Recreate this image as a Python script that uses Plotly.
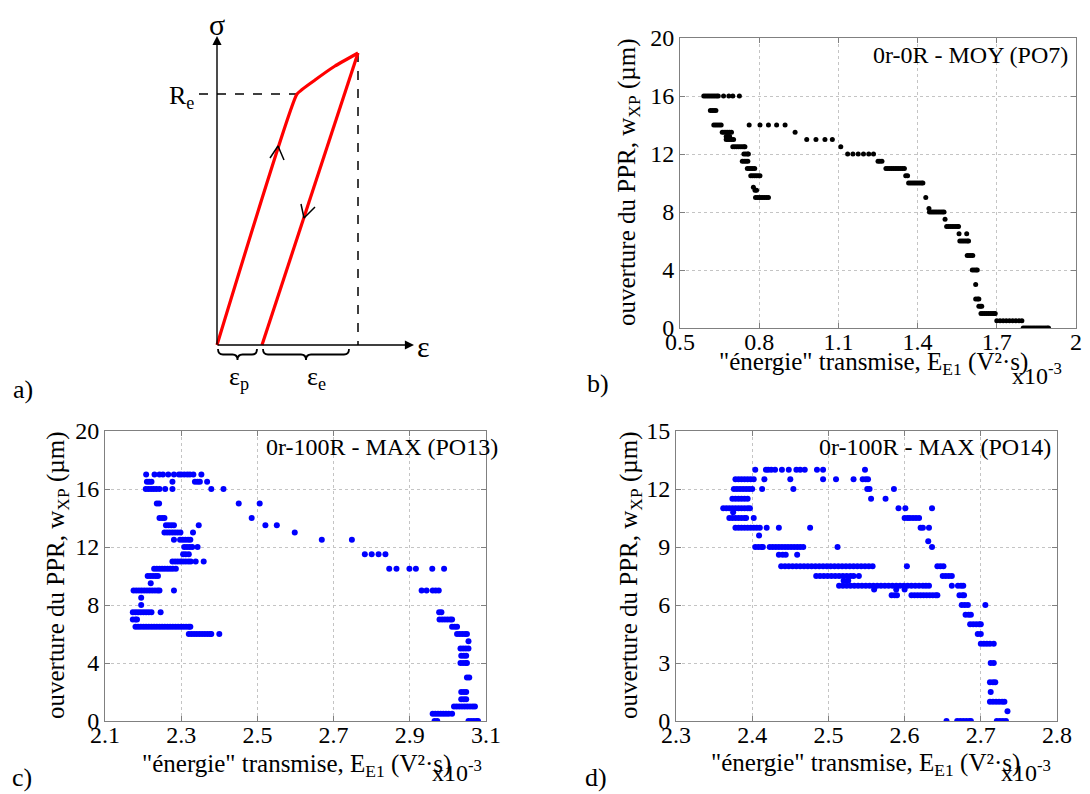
import plotly.graph_objects as go

W, H = 1090, 794
OFF = 8  # page body margin of the viewer
FONT = "Liberation Serif"


def px(x):
    return (x - OFF) / W


def py(y):
    return 1 - (y - OFF) / H


# ---------------- panel a) schematic (sketch coordinates) ----------------
a_load_x = [217, 297, 315, 335, 358]
a_load_y = [345, 94, 80, 66, 53]
a_unload_x = [358, 262]
a_unload_y = [53, 345]
a_re_dash_x = [199, 297]
a_re_dash_y = [94, 94]
a_max_dash_x = [358, 358]
a_max_dash_y = [53, 345]
a_up_chevron_x = [270, 278, 284]
a_up_chevron_y = [158, 146, 160]
a_down_chevron_x = [301, 304, 315]
a_down_chevron_y = [204, 218, 207]

# ---------------- panel b) 0r-0R - MOY (PO7) ----------------
b_levels = [16, 15, 14, 13.5, 13.2, 13, 12.5, 12, 11.5, 11, 10.5, 10, 9.7, 9.5, 9,
            8.25, 8, 7.5, 7, 6.5, 6, 5, 4, 3, 2, 1.5, 1, 0.5, 0]
b_x_rows = [
    [0.59, 0.597, 0.604, 0.611, 0.618, 0.625, 0.632, 0.639, 0.645, 0.665, 0.685, 0.70, 0.725],
    [0.615, 0.622, 0.629, 0.636],
    [0.628, 0.635, 0.642, 0.649, 0.656, 0.762, 0.803, 0.835, 0.866, 0.898],
    [0.66, 0.667, 0.674, 0.681, 0.688, 0.695, 0.936],
    [0.675, 0.682, 0.688],
    [0.675, 0.682, 0.689, 0.696, 0.703, 0.98, 1.015, 1.049, 1.077],
    [0.70, 0.707, 0.714, 0.721, 0.728, 0.735, 0.742, 0.746, 1.109],
    [0.742, 0.749, 0.756, 0.759, 1.135, 1.155, 1.175, 1.195, 1.215, 1.233],
    [0.736, 0.743, 0.75, 0.757, 1.25, 1.257, 1.265],
    [0.755, 0.762, 0.769, 0.776, 0.783, 1.28, 1.287, 1.294, 1.301, 1.308, 1.315, 1.322,
     1.329, 1.336, 1.343, 1.35],
    [0.768, 0.775, 0.782, 0.789, 0.796, 0.803, 1.355, 1.362],
    [1.366, 1.373, 1.38, 1.387, 1.394, 1.401, 1.408, 1.415, 1.42],
    [0.778],
    [0.784, 0.79],
    [0.786, 0.793, 0.8, 0.807, 0.814, 0.821, 0.828, 0.835, 1.431],
    [1.443],
    [1.445, 1.452, 1.459, 1.466, 1.473, 1.48, 1.487, 1.494, 1.5],
    [1.504],
    [1.51, 1.517, 1.524, 1.531, 1.538, 1.545, 1.552, 1.555],
    [1.557, 1.586],
    [1.56, 1.567, 1.574, 1.581, 1.588, 1.593],
    [1.588, 1.595, 1.602, 1.609],
    [1.607, 1.614, 1.621, 1.626],
    [1.62],
    [1.62, 1.627, 1.632],
    [1.632, 1.638, 1.643],
    [1.64, 1.647, 1.654, 1.661, 1.668, 1.675, 1.682, 1.689, 1.694],
    [1.70, 1.712, 1.724, 1.736, 1.748, 1.76, 1.772, 1.784, 1.795],
    [1.80, 1.807, 1.814, 1.821, 1.828, 1.835, 1.842, 1.849, 1.856, 1.863, 1.87, 1.877,
     1.884, 1.891, 1.896],
]

# ---------------- panel c) 0r-100R - MAX (PO13) ----------------
c_levels = [17, 16.5, 16, 15, 14, 13.5, 13, 12.5, 12, 11.5, 11, 10.5, 10, 9.5, 9, 8.5, 8,
            7.5, 7, 6.5, 6, 5.5, 5, 4.5, 4, 3, 2, 1.5, 1, 0.5, 0]
c_x_rows = [
    [2.208, 2.23, 2.243, 2.252, 2.266, 2.281, 2.294, 2.30, 2.308, 2.316, 2.323, 2.332, 2.353],
    [2.21, 2.216, 2.222, 2.277, 2.336, 2.343, 2.349, 2.368],
    [2.207, 2.214, 2.221, 2.228, 2.235, 2.243, 2.258, 2.277, 2.379, 2.411],
    [2.236, 2.242, 2.451, 2.506],
    [2.243, 2.25, 2.256, 2.485],
    [2.26, 2.267, 2.274, 2.281, 2.346, 2.521, 2.551],
    [2.256, 2.263, 2.27, 2.277, 2.284, 2.291, 2.298, 2.331, 2.598],
    [2.281, 2.297, 2.304, 2.311, 2.318, 2.324, 2.669, 2.748],
    [2.308, 2.315, 2.322, 2.329, 2.343],
    [2.305, 2.312, 2.32, 2.782, 2.80, 2.818, 2.836],
    [2.277, 2.284, 2.291, 2.298, 2.305, 2.312, 2.319, 2.325, 2.338, 2.359],
    [2.229, 2.236, 2.243, 2.25, 2.257, 2.264, 2.271, 2.278, 2.286,
     2.846, 2.865, 2.899, 2.916, 2.959, 2.99],
    [2.212, 2.219, 2.226, 2.233, 2.239],
    [2.22],
    [2.175, 2.182, 2.189, 2.196, 2.203, 2.21, 2.217, 2.224, 2.231, 2.238, 2.243, 2.281,
     2.931, 2.944, 2.96, 2.968, 2.976],
    [2.195],
    [2.195],
    [2.173, 2.18, 2.187, 2.194, 2.201, 2.208, 2.215, 2.222, 2.246, 2.977, 2.983],
    [2.173, 2.18, 2.184, 2.978, 2.985, 2.992, 2.999, 3.006, 3.011],
    [2.18, 2.187, 2.194, 2.201, 2.208, 2.215, 2.222, 2.229, 2.236, 2.243, 2.25, 2.257,
     2.264, 2.271, 2.278, 2.285, 2.292, 2.299, 2.306, 2.313, 2.32, 2.324,
     3.011, 3.018, 3.024],
    [2.32, 2.327, 2.334, 2.341, 2.348, 2.355, 2.362, 2.369, 2.376, 2.379, 2.40,
     3.024, 3.031, 3.038, 3.045, 3.05],
    [3.054],
    [3.033, 3.04, 3.047, 3.054],
    [3.035, 3.042, 3.048],
    [3.033, 3.04, 3.047, 3.05],
    [3.05, 3.056],
    [3.035, 3.042, 3.048],
    [3.035, 3.042, 3.048],
    [3.016, 3.023, 3.03, 3.037, 3.044, 3.051, 3.058, 3.065, 3.071],
    [2.96, 2.967, 2.974, 2.981, 2.988, 2.995, 3.002, 3.011],
    [2.965, 2.972, 3.054, 3.061, 3.068, 3.075, 3.079],
]

# ---------------- panel d) 0r-100R - MAX (PO14) ----------------
d_levels = [13, 12.5, 12, 11.5, 11, 10.8, 10.5, 10, 9.6, 9.3, 9, 8.6, 8, 7.5, 7.25, 7,
            6.8, 6.5, 6, 5.5, 5, 4.5, 4, 3, 2, 1.5, 1, 0.5, 0]
d_x_rows = [
    [2.404, 2.418, 2.421, 2.425, 2.43, 2.439, 2.448, 2.458, 2.463, 2.469, 2.485, 2.493, 2.548],
    [2.378, 2.382, 2.386, 2.39, 2.394, 2.398, 2.402, 2.416, 2.45, 2.493, 2.51, 2.533,
     2.545, 2.549, 2.552],
    [2.376, 2.38, 2.384, 2.388, 2.392, 2.396, 2.40, 2.413, 2.454, 2.551, 2.554, 2.586],
    [2.374, 2.378, 2.382, 2.386, 2.39, 2.394, 2.556, 2.575],
    [2.362, 2.366, 2.37, 2.374, 2.378, 2.382, 2.386, 2.39, 2.394, 2.397, 2.592, 2.601, 2.636],
    [2.375],
    [2.37, 2.374, 2.378, 2.382, 2.386, 2.39, 2.392, 2.402, 2.60, 2.604, 2.607,
     2.611, 2.615, 2.619],
    [2.378, 2.382, 2.386, 2.39, 2.394, 2.398, 2.402, 2.406, 2.41, 2.419, 2.435, 2.476,
     2.621, 2.624, 2.632],
    [2.409],
    [2.631],
    [2.404, 2.408, 2.412, 2.414, 2.423, 2.427, 2.431, 2.435, 2.439, 2.443, 2.447, 2.451,
     2.455, 2.459, 2.463, 2.467, 2.512, 2.636],
    [2.435, 2.44, 2.444, 2.459],
    [2.438, 2.443, 2.448, 2.453, 2.458, 2.463, 2.468, 2.473, 2.478, 2.483, 2.488, 2.493,
     2.498, 2.503, 2.508, 2.513, 2.518, 2.523, 2.528, 2.533, 2.538, 2.543, 2.548, 2.553,
     2.558, 2.603, 2.643, 2.647, 2.651],
    [2.484, 2.489, 2.494, 2.499, 2.504, 2.509, 2.514, 2.519, 2.524, 2.529, 2.533, 2.54,
     2.65, 2.654, 2.658, 2.662],
    [2.52, 2.526],
    [2.514, 2.519, 2.524, 2.529, 2.534, 2.539, 2.544, 2.549, 2.554, 2.559, 2.564, 2.569,
     2.574, 2.579, 2.584, 2.589, 2.594, 2.599, 2.604, 2.609, 2.614, 2.619, 2.624, 2.628,
     2.632, 2.662, 2.67, 2.674, 2.677],
    [2.56, 2.589, 2.60],
    [2.583, 2.587, 2.59, 2.609, 2.613, 2.617, 2.621, 2.625, 2.629, 2.633, 2.637, 2.641,
     2.643, 2.672, 2.676, 2.678],
    [2.675, 2.679, 2.683, 2.706],
    [2.68, 2.684, 2.687],
    [2.686, 2.69, 2.694, 2.698, 2.70],
    [2.696, 2.70],
    [2.70, 2.704, 2.708, 2.712, 2.717],
    [2.713, 2.717],
    [2.712, 2.716, 2.719],
    [2.713],
    [2.712, 2.716, 2.72, 2.724, 2.728, 2.731],
    [2.735],
    [2.655, 2.669, 2.673, 2.677, 2.681, 2.685, 2.687, 2.721, 2.725, 2.729, 2.733],
]

b_xticks = [0.5, 0.8, 1.1, 1.4, 1.7, 2.0]
b_xticktext = ["0.5", "0.8", "1.1", "1.4", "1.7", "2"]
c_xticks = [2.1, 2.3, 2.5, 2.7, 2.9, 3.1]
c_xticktext = ["2.1", "2.3", "2.5", "2.7", "2.9", "3.1"]
d_xticks = [2.3, 2.4, 2.5, 2.6, 2.7, 2.8]
d_xticktext = ["2.3", "2.4", "2.5", "2.6", "2.7", "2.8"]


def flatten(levels, rows):
    xs, ys = [], []
    for lvl, row in zip(levels, rows):
        xs.extend(row)
        ys.extend([lvl] * len(row))
    return xs, ys


fig = go.Figure()

bx, by = flatten(b_levels, b_x_rows)
cx, cy = flatten(c_levels, c_x_rows)
dx, dy = flatten(d_levels, d_x_rows)

fig.add_trace(go.Scatter(x=bx, y=by, mode="markers", xaxis="x", yaxis="y",
                         marker=dict(color="black", size=5), showlegend=False))
fig.add_trace(go.Scatter(x=cx, y=cy, mode="markers", xaxis="x2", yaxis="y2",
                         marker=dict(color="#0000ff", size=6), showlegend=False))
fig.add_trace(go.Scatter(x=dx, y=dy, mode="markers", xaxis="x3", yaxis="y3",
                         marker=dict(color="#0000ff", size=6), showlegend=False))

# schematic traces
sk = dict(xaxis="x4", yaxis="y4", mode="lines", showlegend=False, hoverinfo="skip")
fig.add_trace(go.Scatter(x=a_re_dash_x, y=a_re_dash_y, line=dict(color="black", width=1.5, dash="dash"), **sk))
fig.add_trace(go.Scatter(x=a_max_dash_x, y=a_max_dash_y, line=dict(color="black", width=1.5, dash="dash"), **sk))
fig.add_trace(go.Scatter(x=a_load_x, y=a_load_y, line=dict(color="#ff0000", width=3.2, shape="spline", smoothing=0.3), **sk))
fig.add_trace(go.Scatter(x=a_unload_x, y=a_unload_y, line=dict(color="#ff0000", width=3.2), **sk))
fig.add_trace(go.Scatter(x=a_up_chevron_x, y=a_up_chevron_y, line=dict(color="black", width=1.5), **sk))
fig.add_trace(go.Scatter(x=a_down_chevron_x, y=a_down_chevron_y, line=dict(color="black", width=1.5), **sk))

axis_style = dict(
    showline=True, linecolor="#808080", linewidth=1, mirror="ticks",
    ticks="inside", ticklen=5, tickcolor="#808080", automargin=False,
    showgrid=True, gridcolor="#c4c4c4", griddash="dot", gridwidth=1,
    zeroline=False, tickfont=dict(family=FONT, size=24, color="black"),
)
xaxis_style = dict(axis_style, ticklabelstandoff=-8)

fig.update_layout(
    width=W, height=H,
    margin=dict(l=0, r=0, t=0, b=0, pad=0, autoexpand=False),
    paper_bgcolor="white", plot_bgcolor="white",
    font=dict(family=FONT, color="black"),
    xaxis=dict(domain=[px(680), px(1076)], range=[0.5, 2.0], tickvals=b_xticks,
               ticktext=b_xticktext, anchor="y", **xaxis_style),
    yaxis=dict(domain=[py(328), py(38)], range=[0, 20], dtick=4, anchor="x", **axis_style),
    xaxis2=dict(domain=[px(105), px(486)], range=[2.1, 3.1], tickvals=c_xticks,
                ticktext=c_xticktext, anchor="y2", **xaxis_style),
    yaxis2=dict(domain=[py(721), py(431)], range=[0, 20], dtick=4, anchor="x2", **axis_style),
    xaxis3=dict(domain=[px(676), px(1057)], range=[2.3, 2.8], tickvals=d_xticks,
                ticktext=d_xticktext, anchor="y3", **xaxis_style),
    yaxis3=dict(domain=[py(721), py(431)], range=[0, 15], dtick=3, anchor="x3", **axis_style),
    xaxis4=dict(domain=[px(150), px(460)], range=[150, 460], visible=False, anchor="y4",
                automargin=False),
    yaxis4=dict(domain=[py(410), py(8)], range=[410, 8], visible=False, anchor="x4",
                automargin=False),
)

ann = []


def txt(x, y, text, size, xanchor="center", yanchor="middle", angle=0, ref="paper"):
    if ref == "paper":
        d = dict(x=px(x), y=py(y), xref="paper", yref="paper")
    else:
        d = dict(x=x, y=y, xref="x4", yref="y4")
    d.update(text=text, showarrow=False, xanchor=xanchor, yanchor=yanchor,
             textangle=angle, font=dict(family=FONT, size=size, color="black"))
    ann.append(d)


ytitle = "ouverture du PPR, w<sub>XP</sub> (µm)"
xtitle = "\"énergie\" transmise, E<sub>E1</sub> (V²·s)"

# b
txt(628, 183, ytitle, 25, angle=-90)
txt(873, 363, xtitle, 25)
txt(1064, 374, "x10<sup>-3</sup>", 24, xanchor="right")
txt(1070, 55, "0r-0R - MOY (PO7)", 24, xanchor="right")
# c
txt(57, 576, ytitle, 25, angle=-90)
txt(296, 765, xtitle, 25)
txt(484, 771, "x10<sup>-3</sup>", 24, xanchor="right")
txt(500, 447, "0r-100R - MAX (PO13)", 24, xanchor="right")
# d
txt(630, 576, ytitle, 25, angle=-90)
txt(865, 764, xtitle, 25)
txt(1053, 771, "x10<sup>-3</sup>", 24, xanchor="right")
txt(1053, 447, "0r-100R - MAX (PO14)", 24, xanchor="right")

# panel labels
txt(23, 390, "a)", 26)
txt(598, 383, "b)", 26)
txt(22, 777, "c)", 26)
txt(596, 777, "d)", 26)

# schematic labels
txt(217, 24, "σ", 30, ref="sk")
txt(196, 97, "R<sub>e</sub>", 26, xanchor="right", ref="sk")
txt(423, 346, "ε", 30, ref="sk")
txt(239, 378, "ε<sub>p</sub>", 26, ref="sk")
txt(316, 378, "ε<sub>e</sub>", 26, ref="sk")

# schematic axes arrows
for hx, hy, tx, ty in [(217, 36, 217, 346), (414, 345, 216, 345)]:
    ann.append(dict(x=hx, y=hy, ax=tx, ay=ty, xref="x4", yref="y4", axref="x4", ayref="y4",
                    showarrow=True, arrowhead=2, arrowsize=1.3, arrowwidth=1.4,
                    arrowcolor="black", text=""))

fig.update_layout(annotations=ann)


def brace(x0, x1, y0=349, h=11):
    xm = (x0 + x1) / 2
    ym = y0 + h / 2
    y1 = y0 + h
    return (f"M {x0},{y0} Q {x0},{ym} {x0+5},{ym} L {xm-5},{ym} Q {xm},{ym} {xm},{y1} "
            f"Q {xm},{ym} {xm+5},{ym} L {x1-5},{ym} Q {x1},{ym} {x1},{y0}")


for x0, x1 in [(218, 257), (263, 349)]:
    fig.add_shape(type="path", path=brace(x0, x1), xref="x4", yref="y4",
                  line=dict(color="black", width=1.8))

fig.write_html("out.html")
